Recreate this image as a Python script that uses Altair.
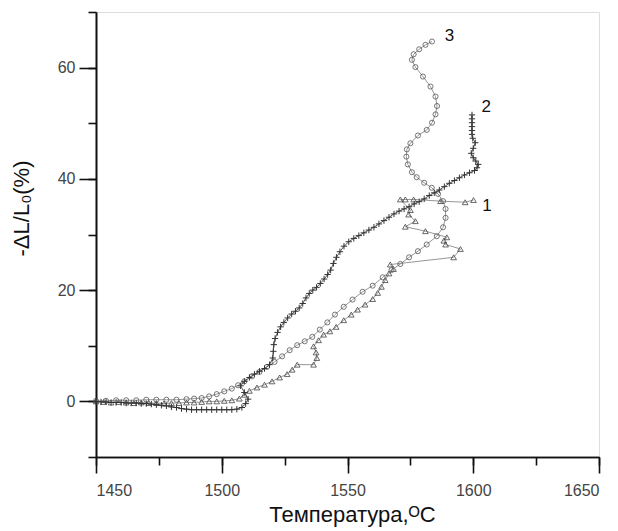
import altair as alt
import pandas as pd

# Series 1 (triangles)
tri_x = [1450, 1453, 1456, 1459, 1462, 1465, 1468, 1471, 1474, 1477,
         1480, 1483, 1486, 1489, 1492, 1495, 1498, 1501, 1504, 1507,
         1509, 1511, 1514, 1517, 1520, 1523, 1526, 1528, 1530, 1536.5,
         1537.8, 1537.5, 1536.5, 1538.5, 1540.5, 1543, 1545.5, 1548.5, 1551.5, 1554,
         1557, 1560, 1562, 1563.5, 1565, 1566.5, 1568.3, 1567, 1592.2, 1594.9,
         1589, 1588.3, 1589.5, 1581, 1573, 1577, 1574.3, 1575, 1571, 1573,
         1576.3, 1587, 1596.8, 1600.1]
tri_y = [0, -0.1, -0.2, -0.1, -0.2, -0.3, -0.2, -0.3, -0.3, -0.4,
         -0.3, -0.3, -0.2, -0.2, -0.1, 0, 0, 0.1, 0.2, 0.5,
         1.2, 1.9, 2.5, 3.0, 3.6, 4.3, 4.9, 5.7, 6.6, 6.6,
         7.8, 8.8, 9.9, 11.0, 12.0, 12.6, 13.4, 14.6, 15.6, 16.5,
         17.4, 18.4, 19.5, 20.6, 21.8, 23.0, 23.8, 24.6, 25.9, 27.4,
         28.2, 28.9, 29.5, 30.6, 31.4, 32.4, 33.6, 34.4, 36.3, 36.3,
         36.3, 36.0, 35.8, 36.2]

# Series 2 (plus)
plus_x = [1450, 1452, 1454, 1456, 1458, 1460, 1462, 1464, 1466, 1468,
          1470, 1472, 1474, 1476, 1478, 1480, 1482, 1484, 1486, 1488,
          1490, 1492, 1494, 1496, 1498, 1500, 1502, 1504, 1506, 1508,
          1509.5, 1510.5, 1509, 1507.5, 1509, 1511, 1513, 1515, 1517, 1519,
          1520.3, 1520.5, 1520.7, 1521.2, 1522.2, 1523.4, 1524.7, 1526.2, 1527.8, 1529.3,
          1530.8, 1532.2, 1533.5, 1534.8, 1536.2, 1537.7, 1539.2, 1540.7, 1542.1, 1543.3,
          1544.4, 1545.6, 1547, 1548.6, 1550.5, 1552.5, 1554.5, 1556.5, 1558.5, 1560.5,
          1562.5, 1564.5, 1566.5, 1568.5, 1570.5, 1572.5, 1574.5, 1576.5, 1578.5, 1580.5,
          1582.5, 1584.5, 1586.5, 1588.5, 1590.5, 1592.5, 1594.5, 1596.5, 1598.5, 1600.5,
          1601.5, 1602, 1601, 1600, 1599.2, 1600, 1600.8, 1599.8, 1599.5, 1599.5,
          1599.5, 1599.5, 1599.5, 1599.5]
plus_y = [0, -0.1, -0.1, -0.2, -0.2, -0.2, -0.3, -0.3, -0.3, -0.4,
          -0.4, -0.5, -0.6, -0.7, -0.8, -1.0, -1.1, -1.3, -1.4, -1.5,
          -1.5, -1.5, -1.5, -1.5, -1.5, -1.5, -1.5, -1.5, -1.4, -1.1,
          -0.4, 0.4, 1.6, 2.8, 3.6, 4.3, 4.9, 5.4, 5.9, 6.6,
          7.8, 9.0, 10.2, 11.3, 12.4, 13.4, 14.2, 15.0, 15.7, 16.2,
          16.8, 17.6, 18.6, 19.4, 20.0, 20.5, 21.2, 22.0, 22.8, 23.6,
          24.8, 25.9, 26.9, 27.9, 28.7, 29.3, 29.8, 30.3, 30.8, 31.3,
          31.9, 32.5, 33.1, 33.7, 34.2, 34.6, 35.0, 35.5, 35.9, 36.4,
          37.0, 37.5, 38.0, 38.6, 39.2, 39.7, 40.2, 40.7, 41.1, 41.5,
          42.0, 42.6, 43.2, 43.8, 44.6, 45.5, 46.5, 47.3, 48.0, 48.7,
          49.4, 50.1, 50.8, 51.5]

# Series 3 (circles)
circ_x = [1450, 1454, 1458, 1462, 1466, 1470, 1474, 1478, 1482, 1486,
          1489, 1492, 1495, 1498, 1501, 1504, 1506.5, 1509, 1512, 1515,
          1518, 1521, 1524, 1527, 1530, 1533, 1536, 1539, 1542, 1545,
          1548.5, 1552, 1556, 1560, 1564, 1567.5, 1571, 1574.5, 1578, 1581.5,
          1585.5, 1588, 1589, 1589, 1588, 1586, 1583.5, 1580.5, 1577.5, 1575.6,
          1574, 1573.4, 1573.6, 1575, 1578, 1581.5, 1583.6, 1585, 1585.6, 1585,
          1583, 1580, 1577, 1575.6, 1576.3, 1578.5, 1581, 1583.6]
circ_y = [0.1, 0.1, 0.2, 0.2, 0.2, 0.3, 0.3, 0.3, 0.3, 0.4,
          0.5, 0.6, 0.9, 1.3, 1.8, 2.3, 2.9, 3.6, 4.5, 5.3,
          6.2, 7.1, 8.1, 9.2, 10.1, 10.8, 11.6, 12.9, 14.2, 15.6,
          17.0, 18.3, 19.7, 20.8, 22.3, 23.6, 24.7, 25.9, 27.0, 28.2,
          29.7, 31.3, 33.0, 34.6, 36.0, 37.3, 38.4, 39.3, 40.3, 41.2,
          42.6, 44.0, 45.3, 46.4, 47.8, 48.8, 50.1, 51.6, 53.1, 54.8,
          56.6, 58.4, 60.1, 61.4, 62.4, 63.3, 64.1, 64.7]

# Curve labels
lab_text = ["1", "2", "3"]
lab_x = [1605.5, 1605.2, 1590.6]
lab_y = [35.1, 52.9, 65.7]

x_major = [1450, 1500, 1550, 1600, 1650]
x_minor = [1450, 1475, 1500, 1525, 1550, 1575, 1600, 1625, 1650]
y_major = [0, 20, 40, 60]
y_minor = [-10, 0, 10, 20, 30, 40, 50, 60, 70]

FONT = "Liberation Sans"
AX = dict(grid=False, domainColor="#111", tickColor="#111", domainWidth=1.6, tickWidth=1.6)


def frame(xs, ys):
    return pd.DataFrame({"i": list(range(len(xs))), "t": xs, "v": ys})


xscale = alt.Scale(domain=[1450, 1650], nice=False, zero=False)
yscale = alt.Scale(domain=[-10, 70], nice=False, zero=False)

# minor-tick axes (on the data layers)
xaxis_minor = alt.Axis(values=x_minor, tickSize=8, labels=False, title=None, orient="bottom", **AX)
yaxis_minor = alt.Axis(values=y_minor, tickSize=8, labels=False, title=None, orient="left", **AX)

# major-tick axes with labels and titles
xaxis_major = alt.Axis(
    values=x_major, format="d", tickSize=16, orient="bottom",
    labelFont=FONT, labelFontSize=16, labelColor="#444", labelPadding=9,
    title="Температура,ᴼC", titleFont=FONT, titleFontSize=22, titleFontWeight="normal",
    titleColor="#111", titleX=256, titleY=64, titleAlign="center", titleBaseline="alphabetic",
    **AX,
)
yaxis_major = alt.Axis(
    values=y_major, format="d", tickSize=17, orient="left",
    labelFont=FONT, labelFontSize=16, labelColor="#444", labelPadding=4,
    title="-ΔL/L₀(%)", titleFont=FONT, titleFontSize=22, titleFontWeight="normal",
    titleColor="#111", titleX=-75, titleY=196, titleAngle=270, titleAlign="center",
    titleBaseline="middle",
    **AX,
)

Xm = alt.X("t:Q", scale=xscale, axis=xaxis_minor)
Ym = alt.Y("v:Q", scale=yscale, axis=yaxis_minor)
XM = alt.X("t:Q", scale=xscale, axis=xaxis_major)
YM = alt.Y("v:Q", scale=yscale, axis=yaxis_major)

PLUS = "M-1,0L1,0M0,-1L0,1"


def series(xs, ys, line_color, shape, mark_color, size, sw):
    d = frame(xs, ys)
    line = alt.Chart(d).mark_line(color=line_color, strokeWidth=0.9).encode(
        x=Xm, y=Ym, order="i:Q")
    pts = alt.Chart(d).mark_point(shape=shape, filled=False, color=mark_color,
                                  size=size, strokeWidth=sw, opacity=1).encode(x=Xm, y=Ym)
    return alt.layer(line, pts)


data_layers = alt.layer(
    series(tri_x, tri_y, "#8a8a8a", "triangle-up", "#444444", 32, 0.8),
    series(circ_x, circ_y, "#8a8a8a", "circle", "#555555", 26, 0.8),
    series(plus_x, plus_y, "#444444", PLUS, "#333333", 40, 1.0),
)

labels = alt.Chart(pd.DataFrame({"s": lab_text, "t": lab_x, "v": lab_y})).mark_text(
    font=FONT, fontSize=17, color="#111", align="center", baseline="middle"
).encode(x=XM, y=YM, text="s:N")

chart = alt.layer(data_layers, labels).resolve_axis(
    x="independent", y="independent"
).properties(
    width=503, height=445,
    autosize=alt.AutoSizeParams(type="none"),
    padding={"left": 96, "top": 12, "right": 19, "bottom": 74},
).configure_view(stroke=None).configure(background="white")

chart.save("out.html", embed_options={"renderer": "svg", "actions": False})
